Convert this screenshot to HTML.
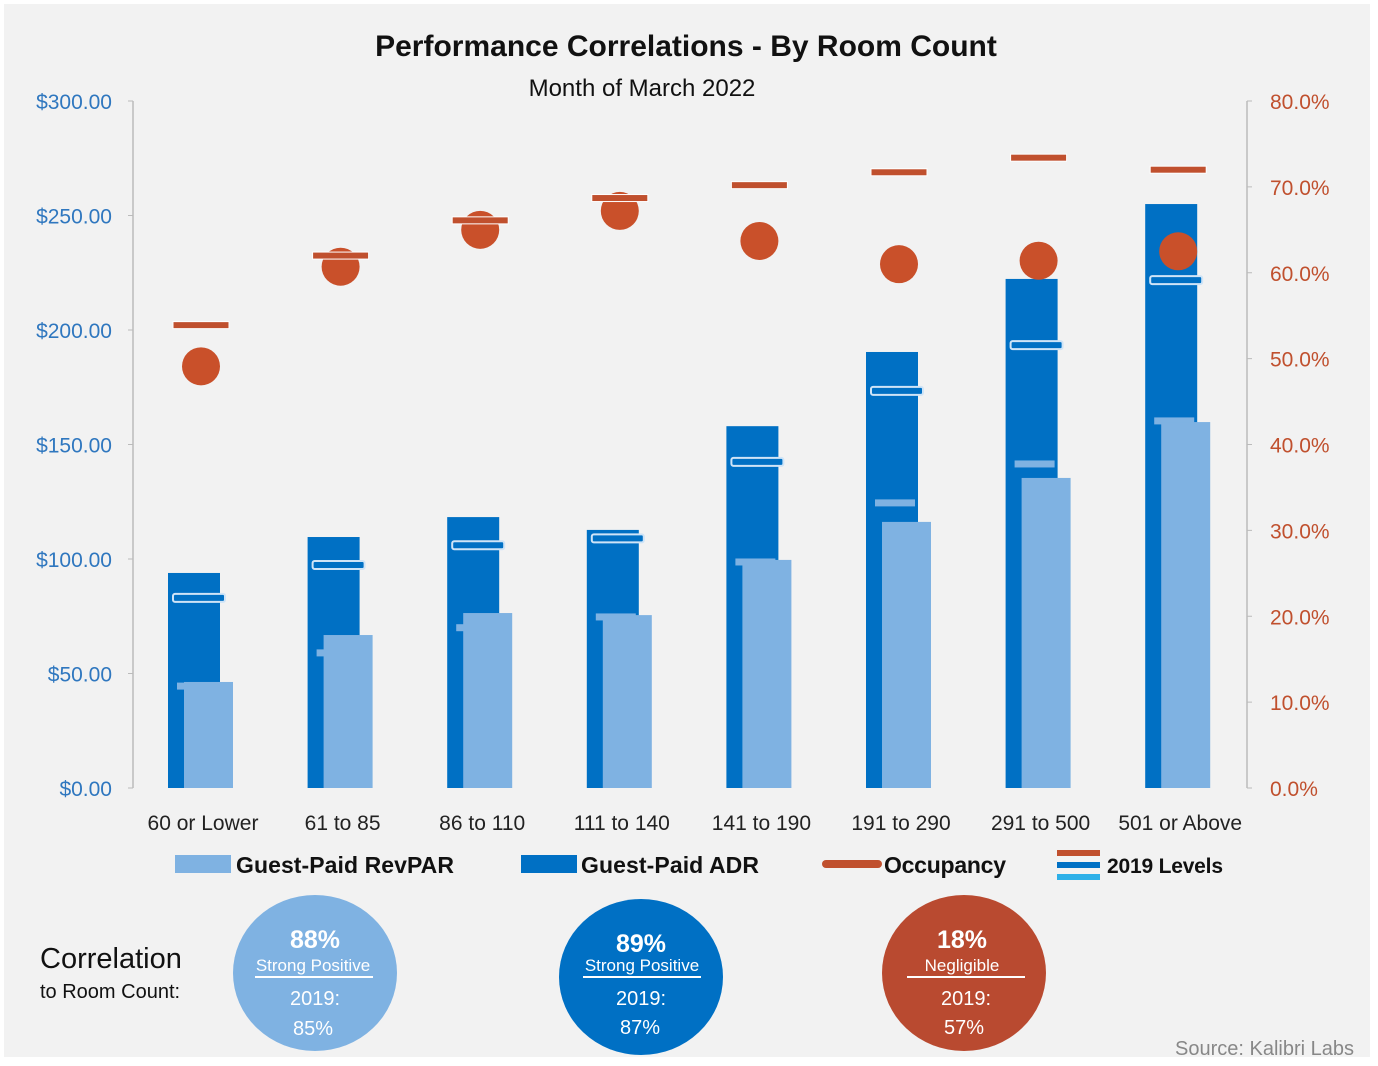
<!DOCTYPE html>
<html><head><meta charset="utf-8"><style>
body{margin:0;background:#fff;}
svg{display:block;font-family:"Liberation Sans",sans-serif;}
</style></head><body>
<svg id="chart" width="1378" height="1066" viewBox="0 0 1378 1066">
<rect x="4" y="4" width="1366" height="1053" fill="#f2f2f2"/>
<text x="686" y="56" text-anchor="middle" font-size="30" font-weight="bold" fill="#111">Performance Correlations - By Room Count</text>
<text x="642" y="96" text-anchor="middle" font-size="24" fill="#111">Month of March 2022</text>
<line x1="133" y1="101" x2="133" y2="788" stroke="#bbb" stroke-width="1.5"/>
<line x1="1247" y1="101" x2="1247" y2="788" stroke="#bbb" stroke-width="1.5"/>
<g id="ticks"></g>
<g id="marks"></g>
<g>
 <rect x="175" y="855" width="56" height="18" fill="#7fb2e2"/>
 <text x="236" y="873" font-size="23" font-weight="bold" fill="#111" textLength="218">Guest-Paid RevPAR</text>
 <rect x="521" y="855" width="56" height="18" fill="#0070c4"/>
 <text x="581" y="873" font-size="23" font-weight="bold" fill="#111" textLength="178">Guest-Paid ADR</text>
 <rect x="822" y="860" width="60" height="8" rx="4" fill="#c0502e"/>
 <text x="884" y="873" font-size="23" font-weight="bold" fill="#111" textLength="122">Occupancy</text>
 <rect x="1057" y="850" width="43" height="6" fill="#c0502e"/>
 <rect x="1057" y="862" width="43" height="6" fill="#0070c4"/>
 <rect x="1057" y="874" width="43" height="6" fill="#2eb0e8"/>
 <text x="1107" y="873" font-size="21" font-weight="bold" fill="#111" textLength="116">2019 Levels</text>
</g>
<text x="40" y="968" font-size="29" fill="#111">Correlation</text>
<text x="40" y="998" font-size="20" fill="#111">to Room Count:</text>
<g>
 <ellipse cx="315" cy="973" rx="82" ry="78" fill="#7fb2e2"/>
 <text x="315" y="948" text-anchor="middle" font-size="25" font-weight="bold" fill="#fff">88%</text>
 <text x="313" y="971" text-anchor="middle" font-size="17" fill="#fff">Strong Positive</text>
 <rect x="255" y="976" width="118" height="2" fill="#fff"/>
 <text x="315" y="1005" text-anchor="middle" font-size="20" fill="#fff">2019:</text>
 <text x="313" y="1035" text-anchor="middle" font-size="20" fill="#fff">85%</text>
</g>
<g>
 <ellipse cx="641" cy="977" rx="82" ry="78" fill="#0070c4"/>
 <text x="641" y="952" text-anchor="middle" font-size="25" font-weight="bold" fill="#fff">89%</text>
 <text x="642" y="971" text-anchor="middle" font-size="17" fill="#fff">Strong Positive</text>
 <rect x="583" y="976" width="118" height="2" fill="#fff"/>
 <text x="641" y="1005" text-anchor="middle" font-size="20" fill="#fff">2019:</text>
 <text x="640" y="1034" text-anchor="middle" font-size="20" fill="#fff">87%</text>
</g>
<g>
 <ellipse cx="964" cy="973" rx="82" ry="78" fill="#b94a30"/>
 <text x="962" y="948" text-anchor="middle" font-size="25" font-weight="bold" fill="#fff">18%</text>
 <text x="962" y="971" text-anchor="middle" font-size="17" fill="#fff">Negligible</text>
 <rect x="907" y="976" width="118" height="2" fill="#fff"/>
 <text x="966" y="1005" text-anchor="middle" font-size="20" fill="#fff">2019:</text>
 <text x="964" y="1034" text-anchor="middle" font-size="20" fill="#fff">57%</text>
</g>
<text x="1354" y="1055" text-anchor="end" font-size="20" fill="#888">Source: Kalibri Labs</text>
</svg>
<script>
const categories=["60 or Lower","61 to 85","86 to 110","111 to 140","141 to 190","191 to 290","291 to 500","501 or Above"];
const adr=[93.9,109.6,118.3,112.7,158,190.4,222.3,255];
const revpar=[46.3,66.8,76.4,75.5,99.6,116.2,135.4,159.8];
const adr2019=[83,97.4,106,109,142.4,173.4,193.4,221.8];
const revpar2019=[44.5,59,70,74.7,98.7,124.5,141.5,160.3];
const occupancy=[49.1,60.7,65.0,67.2,63.7,61.0,61.4,62.5];
const occupancy2019=[53.9,62.0,66.1,68.7,70.2,71.7,73.4,72.0];
const leftTicks=["$0.00","$50.00","$100.00","$150.00","$200.00","$250.00","$300.00"];
const rightTicks=["0.0%","10.0%","20.0%","30.0%","40.0%","50.0%","60.0%","70.0%","80.0%"];

const NS="http://www.w3.org/2000/svg";
const Y0=788,Y1=101;
const yL=v=>Y0-(v/300)*(Y0-Y1);
const yR=v=>Y0-(v/80)*(Y0-Y1);
const xC=i=>201+i*139.6;
function mk(tag,attrs,parent){const e=document.createElementNS(NS,tag);for(const k in attrs)e.setAttribute(k,attrs[k]);parent.appendChild(e);return e;}
const T=document.getElementById('ticks'),M=document.getElementById('marks');
leftTicks.forEach((t,i)=>{const v=i*50;
 const e=mk('text',{x:112,y:yL(v)+8,'text-anchor':'end','font-size':21,fill:'#2f77bf'},T);e.textContent=t;
 
 
 const l=mk('line',{x1:128,x2:133,y1:yL(v),y2:yL(v),stroke:'#bbb'},T);
 
 
});
rightTicks.forEach((t,i)=>{const v=i*10;
 const e=mk('text',{x:1270,y:yR(v)+8,'font-size':21,fill:'#c0502e'},T);e.textContent=t;
 
 
 const l=mk('line',{x1:1247,x2:1252,y1:yR(v),y2:yR(v),stroke:'#bbb'},T);
 
 
});
categories.forEach((c,i)=>{const x=xC(i);
 const lab=mk('text',{x:x+2,y:830,'text-anchor':'middle','font-size':21,fill:'#222'},T);lab.textContent=c;
 
 
 const b=mk('rect',{x:x-33,y:yL(adr[i]),width:52,height:Y0-yL(adr[i]),fill:'#0070c4'},M);
 
 
 const a9=mk('rect',{x:x-28,y:yL(adr2019[i])-4,width:52,height:8,rx:2,fill:'#0070c4',stroke:'#cfe4f7','stroke-width':2},M);
 
 
 const r9=mk('rect',{x:x-24,y:yL(revpar2019[i])-3.5,width:40,height:7,fill:'#7fb2e2'},M);
 
 
 const r=mk('rect',{x:x-17,y:yL(revpar[i]),width:49,height:Y0-yL(revpar[i]),fill:'#7fb2e2'},M);
 
 
 const d=mk('circle',{cx:x,cy:yR(occupancy[i]),r:19,fill:'#c9502a'},M);
 
 
 const o9=mk('rect',{x:x-28,y:yR(occupancy2019[i])-3.5,width:56,height:7,fill:'#c0502e',stroke:'#fff','stroke-width':1},M);
 
 
});
</script>
</body></html>
